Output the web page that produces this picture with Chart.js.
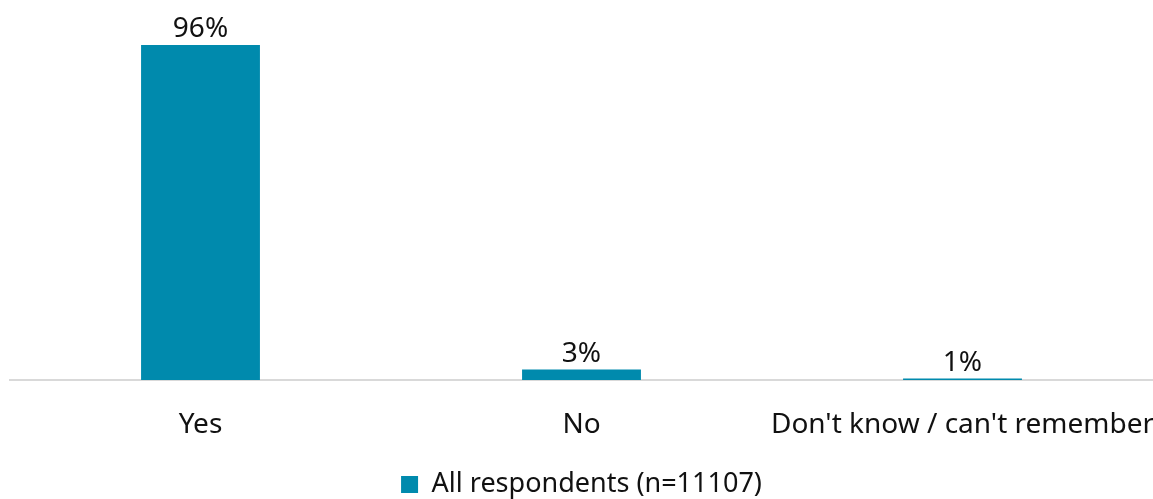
<!DOCTYPE html>
<html>
<head>
<meta charset="utf-8">
<script src="https://cdn.jsdelivr.net/npm/chart.js@4"></script>
<style>
  html, body { margin: 0; padding: 0; background: #fff; }
  #wrap { width: 1153px; height: 499px; }
</style>
</head>
<body>
<div id="wrap"><canvas id="chart"></canvas></div>
<script>
const categories = ["Yes", "No", "Don't know / can't remember"];
const seriesName = "All respondents (n=11107)";
const values = [96, 3, 0.4];
const valueLabels = ["96%", "3%", "1%"];

const FONT = "'Noto Sans', sans-serif";
const BAR_COLOR = "#008aad";
const TEXT_COLOR = "#111";

// draws the percentage above each bar
const barLabels = {
  id: "barLabels",
  afterDatasetsDraw(chart) {
    const ctx = chart.ctx;
    const meta = chart.getDatasetMeta(0);
    ctx.save();
    ctx.font = "28px " + FONT;
    ctx.fillStyle = TEXT_COLOR;
    ctx.textAlign = "center";
    ctx.textBaseline = "alphabetic";
    meta.data.forEach((bar, i) => {
      ctx.fillText(valueLabels[i], bar.x, bar.y - 8);
    });
    ctx.restore();
  },
};

new Chart(document.getElementById("chart"), {
  type: "bar",
  data: {
    labels: categories,
    datasets: [
      {
        label: seriesName,
        data: values,
        backgroundColor: BAR_COLOR,
        categoryPercentage: 1,
        barPercentage: 0.312,
      },
    ],
  },
  options: {
    responsive: true,
    maintainAspectRatio: false,
    animation: false,
    layout: { padding: { top: 31, left: 10, right: 0, bottom: -9 } },
    plugins: {
      tooltip: { enabled: false },
      legend: {
        position: "bottom",
        labels: {
          color: TEXT_COLOR,
          font: { family: FONT, size: 27 },
          boxWidth: 17,
          boxHeight: 17,
          padding: 0,
        },
      },
    },
    scales: {
      y: { display: false, min: 0, max: 100 },
      x: {
        grid: { display: false },
        border: { color: "#d9d9d9", width: 2 },
        ticks: {
          color: TEXT_COLOR,
          font: { family: FONT, size: 28 },
          padding: 20,
          maxRotation: 0,
          autoSkip: false,
        },
        afterFit(scale) {
          scale.height = 91;
          scale.paddingLeft = 0;
          scale.paddingRight = 0;
        },
      },
    },
  },
  plugins: [barLabels],
});
</script>
</body>
</html>
